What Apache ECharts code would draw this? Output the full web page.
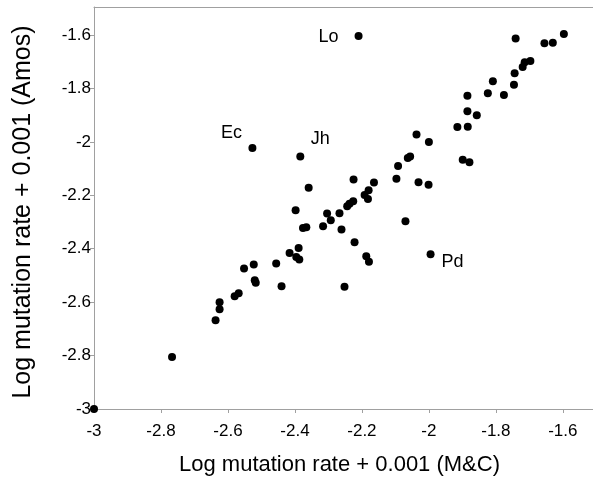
<!DOCTYPE html>
<html><head><meta charset="utf-8">
<script src="https://cdn.jsdelivr.net/npm/echarts@6/dist/echarts.min.js"></script>
<style>html,body{margin:0;padding:0;background:#fff}#c{width:593px;height:481px}</style>
</head><body><div id="c"></div>
<script>
// Log mutation rate + 0.001 (M&C)  -> x
const mcRates = [-3.000,-2.767,-2.637,-2.625,-2.625,-2.580,-2.568,-2.552,-2.523,-2.520,
  -2.517,-2.527,-2.456,-2.440,-2.416,-2.396,-2.387,-2.389,-2.398,-2.384,
  -2.376,-2.366,-2.359,-2.316,-2.304,-2.293,-2.267,-2.261,-2.252,-2.244,
  -2.237,-2.226,-2.225,-2.222,-2.210,-2.192,-2.182,-2.180,-2.164,-2.187,
  -2.179,-2.097,-2.092,-2.070,-2.063,-2.056,-2.037,-2.031,-2.001,-2.000,
  -1.995,-1.915,-1.899,-1.879,-1.884,-1.885,-1.857,-1.885,-1.824,-1.809,
  -1.776,-1.746,-1.744,-1.720,-1.714,-1.697,-1.741,-1.655,-1.630,-1.597];
// Log mutation rate + 0.001 (Amos) -> y
const amosRates = [-3.000,-2.805,-2.668,-2.627,-2.600,-2.578,-2.567,-2.474,-2.459,-2.518,
  -2.527,-2.023,-2.455,-2.540,-2.416,-2.431,-2.440,-2.397,-2.256,-2.055,
  -2.322,-2.320,-2.172,-2.316,-2.268,-2.293,-2.267,-2.328,-2.542,-2.241,
  -2.232,-2.222,-2.141,-2.376,-1.604,-2.199,-2.214,-2.181,-2.152,-2.428,
  -2.449,-2.138,-2.090,-2.297,-2.060,-2.055,-1.972,-2.151,-2.160,-2.000,
  -2.421,-1.944,-2.067,-2.076,-1.943,-1.885,-1.900,-1.827,-1.818,-1.773,
  -1.824,-1.786,-1.743,-1.720,-1.702,-1.697,-1.613,-1.631,-1.629,-1.596];
const speciesLabels = ['Ec','Jh','Lo','Pd'];
const labelIndex = [11,19,34,50];
const xTickLabels = ['-3','-2.8','-2.6','-2.4','-2.2','-2','-1.8','-1.6'];
const yTickLabels = ['-3','-2.8','-2.6','-2.4','-2.2','-2','-1.8','-1.6'];
const xName = 'Log mutation rate + 0.001 (M&C)';
const yName = 'Log mutation rate + 0.001 (Amos)';

const labelOffsets = {Ec:[-21,-15], Jh:[20,-18], Lo:[-30,1], Pd:[22,8]};
const FONT = '"Liberation Sans", Arial, Helvetica, sans-serif';
const AXIS_COLOR = '#a0a0a0';

function tickFormatter(list){
  return function(v){
    const s = String(Math.round(v*10)/10);
    return list.indexOf(s) >= 0 ? s : '';
  };
}

const data = mcRates.map((x,i)=>{
  const k = labelIndex.indexOf(i);
  const item = {value:[x, amosRates[i]]};
  if (k >= 0) {
    const nm = speciesLabels[k];
    item.label = {show:true, formatter:nm, position:'inside', offset:labelOffsets[nm],
      color:'#000', opacity:1, fontSize:18, fontFamily:FONT};
  }
  return item;
});

const chart = echarts.init(document.getElementById('c'), null, {renderer:'canvas'});
chart.setOption({
  animation:false,
  backgroundColor:'#fff',
  grid:{left:94, top:7, right:0, bottom:71, containLabel:false},
  xAxis:[{
    type:'value', min:-3, max:-1.51, interval:0.2, position:'bottom',
    name:xName, nameLocation:'middle', nameGap:45,
    nameTextStyle:{color:'#000', fontSize:22, fontFamily:FONT, padding:[0,8,0,0]},
    axisLine:{show:true, onZero:false, lineStyle:{color:AXIS_COLOR, width:1}},
    axisTick:{show:true, length:4, inside:false, lineStyle:{color:AXIS_COLOR}},
    axisLabel:{color:'#000', fontSize:17, fontFamily:FONT, margin:14, showMaxLabel:false,
      formatter:tickFormatter(xTickLabels)},
    splitLine:{show:false}
  },{
    type:'value', min:-3, max:-1.51, position:'top',
    axisLine:{show:true, onZero:false, lineStyle:{color:AXIS_COLOR, width:1}},
    axisTick:{show:false}, axisLabel:{show:false}, splitLine:{show:false}
  }],
  yAxis:{
    type:'value', min:-3, max:-1.495, interval:0.2,
    name:yName, nameLocation:'middle', nameGap:58,
    nameTextStyle:{color:'#000', fontSize:25, fontFamily:FONT, padding:[0,8,0,0]},
    axisLine:{show:true, onZero:false, lineStyle:{color:AXIS_COLOR, width:1}},
    axisTick:{show:true, length:4, lineStyle:{color:AXIS_COLOR}},
    axisLabel:{color:'#000', fontSize:17, fontFamily:FONT, margin:3, showMaxLabel:false,
      formatter:tickFormatter(yTickLabels)},
    splitLine:{show:false}
  },
  series:[{
    type:'scatter', xAxisIndex:0, yAxisIndex:0,
    symbol:'circle', symbolSize:8,
    itemStyle:{color:'#000', opacity:1},
    data:data
  }]
});
</script></body></html>
